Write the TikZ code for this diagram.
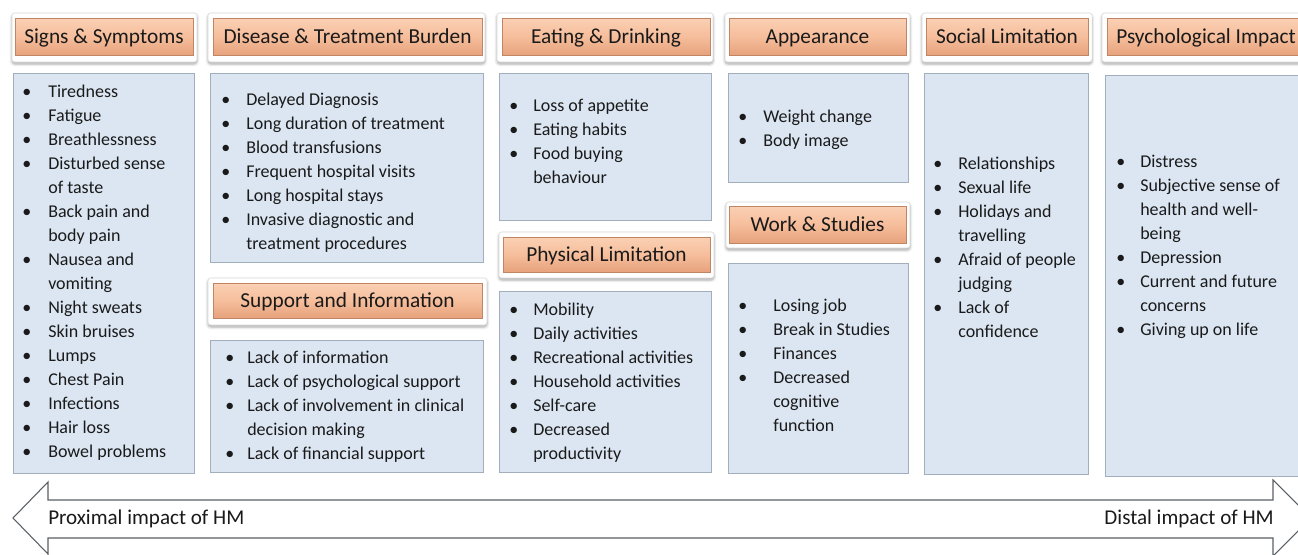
\documentclass[tikz,border=0pt]{standalone}
\usepackage{fontspec}
\setmainfont{Carlito}
\usetikzlibrary{shadows.blur}
\newdimen\px \px=0.75pt
\definecolor{bodyfill}{HTML}{DCE6F2}
\definecolor{bodyline}{HTML}{A3AEBC}
\definecolor{peachtop}{HTML}{FAD0B4}
\definecolor{peachmid}{HTML}{F6BE9C}
\definecolor{peachbot}{HTML}{E6A27C}
\definecolor{peachline}{HTML}{C08562}
\definecolor{txt}{HTML}{1A1A1A}
\definecolor{arrline}{HTML}{5A5F66}
\tikzset{
 frame/.style={draw=black!15, fill=white, rounded corners=2pt,
   blur shadow={shadow xshift=0pt, shadow yshift=-1.5pt, shadow blur radius=2pt, shadow opacity=35}},
 peach/.style={draw=peachline, line width=0.4pt, top color=peachtop, bottom color=peachbot,
   middle color=peachmid, text=txt, inner sep=0pt, text height=11pt, text depth=1pt,
   font=\fontsize{16}{18}\selectfont},
 bodybox/.style={draw=bodyline, fill=bodyfill, line width=0.5pt},
 blist/.style={anchor=base west, inner sep=0pt, text=txt, font=\fontsize{13.5}{18}\selectfont},
 lab/.style={inner sep=0pt, text=txt, text height=11pt, text depth=1pt, font=\fontsize{15.8}{18}\selectfont},
}
\begin{document}
\begin{tikzpicture}[x=0.75pt,y=-0.75pt]
\useasboundingbox (0,0) rectangle (1298,554);
\clip (0,0) rectangle (1298,554);
% header frames
\path[frame] (12,13) rectangle (197,62);
\path[frame] (208,13) rectangle (485,62);
\path[frame] (497,13) rectangle (713,62);
\path[frame] (725,13) rectangle (910,62);
\path[frame] (922,13) rectangle (1092,62);
\path[frame] (1102,13) rectangle (1310,62);
\path[frame] (208,278) rectangle (487,325);
\path[frame] (499,232) rectangle (714,278);
\path[frame] (726,202) rectangle (910,248);
% header boxes
\node[peach, minimum width=178\px, minimum height=37\px] (h1) at (104,36.5) {Signs \& Symptoms};
\node[peach, minimum width=269\px, minimum height=37\px] (h2) at (347.5,36.5) {Disease \& Treatment Burden};
\node[peach, minimum width=208\px, minimum height=37\px] (h3) at (606,36.5) {Eating \& Drinking};
\node[peach, minimum width=177\px, minimum height=37\px] (h4) at (817.5,36.5) {Appearance};
\node[peach, minimum width=162\px, minimum height=37\px] (h5) at (1007,36.5) {Social Limitation};
\node[peach, minimum width=198\px, minimum height=37\px] (h6) at (1206,36.5) {Psychological Impact};
\node[peach, minimum width=269\px, minimum height=35\px] (h7) at (347.5,300.5) {Support and Information};
\node[peach, minimum width=207\px, minimum height=35\px] (h8) at (606.5,254.5) {Physical Limitation};
\node[peach, minimum width=177\px, minimum height=37\px] (h9) at (817.5,224.5) {Work \& Studies};
% body boxes
\path[bodybox] (13,73) rectangle (194,473);
\path[bodybox] (210,73) rectangle (483,262);
\path[bodybox] (210,340) rectangle (483,472);
\path[bodybox] (499,73) rectangle (711,220);
\path[bodybox] (499,291) rectangle (711,472);
\path[bodybox] (728,73) rectangle (908,182);
\path[bodybox] (728,263) rectangle (908,473);
\path[bodybox] (924,73) rectangle (1088,474);
\path[bodybox] (1105,75) rectangle (1320,476);
% lists
\node[blist] (l1) at (22,97) {\begin{tabular}[t]{@{}p{26\px}@{}l@{}}
\textbullet & Tiredness\\
\textbullet & Fatigue\\
\textbullet & Breathlessness\\
\textbullet & Disturbed sense\\
 & of taste\\
\textbullet & Back pain and\\
 & body pain\\
\textbullet & Nausea and\\
 & vomiting\\
\textbullet & Night sweats\\
\textbullet & Skin bruises\\
\textbullet & Lumps\\
\textbullet & Chest Pain\\
\textbullet & Infections\\
\textbullet & Hair loss\\
\textbullet & Bowel problems
\end{tabular}};
\node[blist] (l2) at (221,105) {\begin{tabular}[t]{@{}p{25\px}@{}l@{}}
\textbullet & Delayed Diagnosis\\
\textbullet & Long duration of treatment\\
\textbullet & Blood transfusions\\
\textbullet & Frequent hospital visits\\
\textbullet & Long hospital stays\\
\textbullet & Invasive diagnostic and\\
 & treatment procedures
\end{tabular}};
\node[blist] (l3) at (225,363) {\begin{tabular}[t]{@{}p{22\px}@{}l@{}}
\textbullet & Lack of information\\
\textbullet & Lack of psychological support\\
\textbullet & Lack of involvement in clinical\\
 & decision making\\
\textbullet & Lack of financial support
\end{tabular}};
\node[blist] (l4) at (509,111) {\begin{tabular}[t]{@{}p{24\px}@{}l@{}}
\textbullet & Loss of appetite\\
\textbullet & Eating habits\\
\textbullet & Food buying\\
 & behaviour
\end{tabular}};
\node[blist] (l5) at (509,315) {\begin{tabular}[t]{@{}p{24\px}@{}l@{}}
\textbullet & Mobility\\
\textbullet & Daily activities\\
\textbullet & Recreational activities\\
\textbullet & Household activities\\
\textbullet & Self-care\\
\textbullet & Decreased\\
 & productivity
\end{tabular}};
\node[blist] (l6) at (738,122) {\begin{tabular}[t]{@{}p{25\px}@{}l@{}}
\textbullet & Weight change\\
\textbullet & Body image
\end{tabular}};
\node[blist] (l7) at (738,311) {\begin{tabular}[t]{@{}p{35\px}@{}l@{}}
\textbullet & Losing job\\
\textbullet & Break in Studies\\
\textbullet & Finances\\
\textbullet & Decreased\\
 & cognitive\\
 & function
\end{tabular}};
\node[blist] (l8) at (933,169) {\begin{tabular}[t]{@{}p{25\px}@{}l@{}}
\textbullet & Relationships\\
\textbullet & Sexual life\\
\textbullet & Holidays and\\
 & travelling\\
\textbullet & Afraid of people\\
 & judging\\
\textbullet & Lack of\\
 & confidence
\end{tabular}};
\node[blist] (l9) at (1116,167) {\begin{tabular}[t]{@{}p{24\px}@{}l@{}}
\textbullet & Distress\\
\textbullet & Subjective sense of\\
 & health and well-\\
 & being\\
\textbullet & Depression\\
\textbullet & Current and future\\
 & concerns\\
\textbullet & Giving up on life
\end{tabular}};
% arrow
\draw[arrline, fill=white, line width=0.8pt, line join=miter]
  (13,518) -- (48,482) -- (48,500) -- (1273,500) -- (1273,480) -- (1311,518)
  -- (1273,556) -- (1273,538) -- (48,538) -- (48,554) -- cycle;
\node[lab, anchor=west] (prox) at (48,518) {Proximal impact of HM};
\node[lab, anchor=east] (dist) at (1274,518) {Distal impact of HM};
\end{tikzpicture}
\end{document}
